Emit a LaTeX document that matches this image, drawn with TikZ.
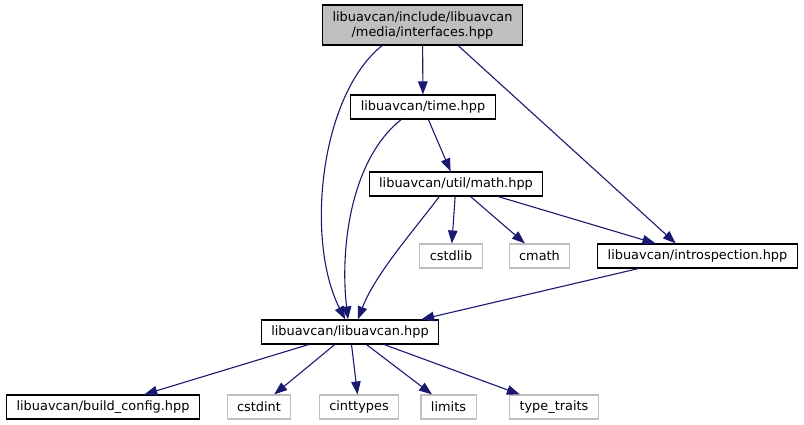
\documentclass[tikz,border=0pt]{standalone}
\usepackage{fontspec}
\setmainfont{DejaVu Sans}
\usetikzlibrary{arrows.meta}
\definecolor{edgeblue}{RGB}{25, 25, 112}
\definecolor{headgray}{RGB}{191, 191, 191}

\begin{document}
\begin{tikzpicture}[x=1pt, y=-1pt, >={Stealth[inset=0pt, length=13pt, width=9.5pt]},
    hdr/.style={draw=black, line width=1.1pt, inner xsep=10pt, inner ysep=0pt,
        minimum height=24pt, font=\fontsize{12.9}{15}\selectfont},
    sys/.style={hdr, draw=headgray},
    dep/.style={->, edgeblue, line width=1.1pt}]
\useasboundingbox (0,0) rectangle (804,425);

\node[hdr, fill=headgray, align=center, minimum height=40pt] (interfaces) at (422.5,25)
    {libuavcan/include/libuavcan\\/media/interfaces.hpp};
\node[hdr] (timehpp) at (423,107) {libuavcan/time.hpp};
\node[hdr] (mathhpp) at (456,184) {libuavcan/util/math.hpp};
\node[sys] (cstdlib) at (451,256) {cstdlib};
\node[sys] (cmath) at (539.5,256) {cmath};
\node[hdr] (introspection) at (697.5,256) {libuavcan/introspection.hpp};
\node[hdr] (libuavcan) at (350,332) {libuavcan/libuavcan.hpp};
\node[hdr] (buildconfig) at (103,407) {libuavcan/build\_config.hpp};
\node[sys] (cstdint) at (259,407) {cstdint};
\node[sys] (cinttypes) at (359,407) {cinttypes};
\node[sys] (limits) at (448.5,407) {limits};
\node[sys] (typetraits) at (554,407) {type\_traits};

\draw[dep] (interfaces.207) .. controls (320,95) and (305,240) .. (libuavcan.111);
\draw[dep] (interfaces) -- (timehpp);
\draw[dep] (interfaces.-30) -- (introspection.150);
\draw[dep] (timehpp.210) .. controls (350,160) and (340,250) .. (libuavcan.99);
\draw[dep] (timehpp) -- (mathhpp);
\draw[dep] (mathhpp.217) .. controls (410,235) and (375,275) .. (libuavcan.58);
\draw[dep] (mathhpp) -- (cstdlib);
\draw[dep] (mathhpp) -- (cmath);
\draw[dep] (mathhpp) -- (introspection);
\draw[dep] (introspection.192) -- (libuavcan.10);
\draw[dep] (libuavcan) -- (buildconfig);
\draw[dep] (libuavcan) -- (cstdint);
\draw[dep] (libuavcan) -- (cinttypes);
\draw[dep] (libuavcan) -- (limits);
\draw[dep] (libuavcan) -- (typetraits);
\end{tikzpicture}
\end{document}
